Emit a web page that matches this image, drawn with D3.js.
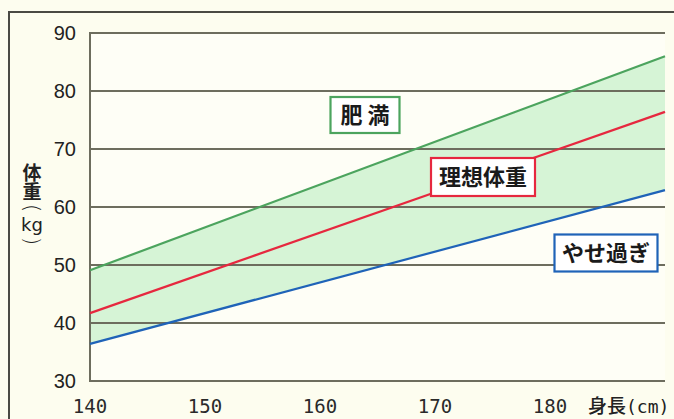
<!DOCTYPE html>
<html lang="ja">
<head>
<meta charset="utf-8">
<script src="https://cdn.jsdelivr.net/npm/d3@7"></script>
<style>
  html, body { margin: 0; padding: 0; background: #fdfdef; }
  svg { display: block; }
</style>
</head>
<body>
<svg id="chart" width="674" height="419"></svg>
<script>
// Heights (cm) and weight boundaries (kg)
const heights = [140, 190];
const obeseLine = [49.1, 86.0];   // 肥満 boundary
const idealLine = [41.7, 76.4];   // 理想体重
const thinLine = [36.4, 62.9];    // やせ過ぎ boundary

const xTicks = [140, 150, 160, 170, 180];
const yTicks = [30, 40, 50, 60, 70, 80, 90];

const svg = d3.select("#chart");
const W = 674, H = 419;

const x = d3.scaleLinear().domain([140, 190]).range([90, 665]);
const y = d3.scaleLinear().domain([30, 90]).range([381, 33]);

// outer frame
svg.append("path")
  .attr("d", `M9,${H} L9,12 L${W},12`)
  .attr("fill", "none")
  .attr("stroke", "#4a4a44")
  .attr("stroke-width", 2);

// plot background
svg.append("rect")
  .attr("x", x(140)).attr("y", y(90))
  .attr("width", x(190) - x(140)).attr("height", y(30) - y(90))
  .attr("fill", "#fefef6");

const pts = heights.map((h, i) => ({ h, top: obeseLine[i], mid: idealLine[i], low: thinLine[i] }));

// band between obese and thin boundaries
svg.append("path")
  .datum(pts)
  .attr("fill", "#d6f4d6")
  .attr("d", d3.area().x(d => x(d.h)).y0(d => y(d.low)).y1(d => y(d.top)));

// horizontal gridlines
svg.append("g")
  .selectAll("line")
  .data(yTicks)
  .join("line")
  .attr("x1", x(140)).attr("x2", x(190))
  .attr("y1", d => y(d)).attr("y2", d => y(d))
  .attr("stroke", "#6d6d5e")
  .attr("stroke-width", 2);

// left axis line
svg.append("line")
  .attr("x1", x(140)).attr("x2", x(140))
  .attr("y1", y(90) - 1).attr("y2", y(30) + 1)
  .attr("stroke", "#6d6d5e")
  .attr("stroke-width", 2);

// boundary lines
const line = key => d3.line().x(d => x(d.h)).y(d => y(d[key]));
[["top", "#4ca45e"], ["mid", "#e6283f"], ["low", "#1f63b8"]].forEach(([k, c]) => {
  svg.append("path")
    .datum(pts)
    .attr("fill", "none")
    .attr("stroke", c)
    .attr("stroke-width", 2.2)
    .attr("d", line(k));
});

// y tick labels
svg.append("g")
  .selectAll("text")
  .data(yTicks)
  .join("text")
  .attr("x", 76)
  .attr("y", d => y(d))
  .attr("dy", "0.35em")
  .attr("text-anchor", "end")
  .attr("font-family", "Liberation Sans, Arial, sans-serif")
  .attr("font-size", 20)
  .attr("fill", "#222")
  .text(d => d);

// x tick labels
svg.append("g")
  .selectAll("text")
  .data(xTicks)
  .join("text")
  .attr("x", d => x(d))
  .attr("y", 406)
  .attr("dy", "0.35em")
  .attr("text-anchor", "middle")
  .attr("font-family", "DejaVu Sans Mono, monospace")
  .attr("font-size", 19)
  .attr("fill", "#2a2a2a")
  .text(d => d);

// x axis title
svg.append("text")
  .attr("x", 588).attr("y", 406).attr("dy", "0.35em")
  .attr("font-family", "Noto Sans CJK JP, sans-serif")
  .attr("font-size", 19)
  .attr("font-weight", 500)
  .attr("fill", "#222")
  .text("身長")
  .append("tspan")
  .attr("font-family", "DejaVu Sans Mono, monospace")
  .attr("font-size", 18)
  .attr("font-weight", 400)
  .text("(cm)");

// y axis title, written vertically
const yt = svg.append("g")
  .attr("fill", "#222")
  .attr("text-anchor", "middle");
yt.append("text")
  .attr("x", 32).attr("y", 182)
  .style("writing-mode", "vertical-rl")
  .style("text-orientation", "upright")
  .attr("font-family", "Noto Sans CJK JP, sans-serif")
  .attr("font-size", 19)
  .attr("font-weight", 700)
  .text("体重");
yt.append("text")
  .attr("x", 32).attr("y", 225).attr("dy", "0.35em")
  .attr("font-family", "DejaVu Sans, sans-serif")
  .attr("font-size", 18)
  .text("kg");
// rotated parentheses around kg
[["(", 208], [")", 241]].forEach(([t, cy]) => {
  yt.append("text")
    .attr("transform", `translate(32,${cy}) rotate(90)`)
    .attr("dy", "0.32em")
    .attr("font-family", "DejaVu Sans, sans-serif")
    .attr("font-size", 22)
    .attr("font-weight", 300)
    .text(t);
});

// region labels
const labels = [
  { text: "肥 満", cx: 365, cy: 115, w: 69, h: 36, color: "#4ca45e" },
  { text: "理想体重", cx: 483, cy: 177, w: 104, h: 38, color: "#e6283f" },
  { text: "やせ過ぎ", cx: 606, cy: 253, w: 103, h: 37, color: "#1f63b8" }
];
const lg = svg.append("g").selectAll("g").data(labels).join("g");
lg.append("rect")
  .attr("x", d => d.cx - d.w / 2).attr("y", d => d.cy - d.h / 2)
  .attr("width", d => d.w).attr("height", d => d.h)
  .attr("fill", "#ffffff")
  .attr("stroke", d => d.color)
  .attr("stroke-width", 2.2);
lg.append("text")
  .attr("x", d => d.cx).attr("y", d => d.cy).attr("dy", "0.36em")
  .attr("text-anchor", "middle")
  .attr("font-family", "Noto Sans CJK JP, sans-serif")
  .attr("font-size", 22)
  .attr("font-weight", 700)
  .attr("fill", "#1a1a1a")
  .text(d => d.text);
</script>
</body>
</html>
